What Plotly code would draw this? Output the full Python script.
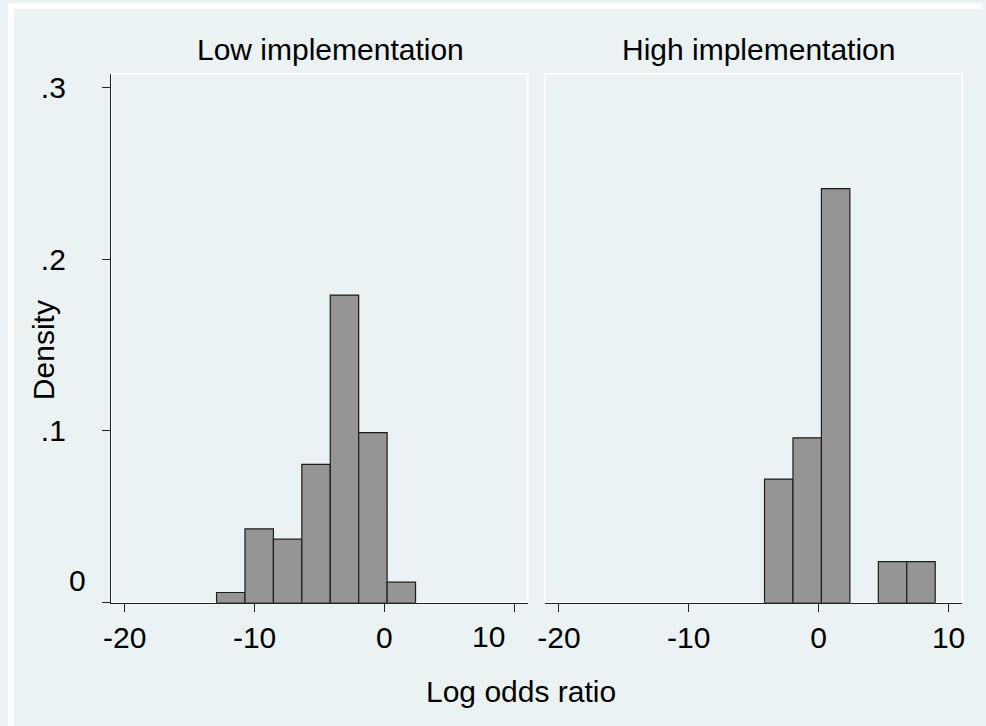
import plotly.graph_objects as go

# ---- data ----
bin_edges = [-12.93, -10.74, -8.55, -6.36, -4.17, -1.98, 0.21, 2.40, 4.59, 6.78, 8.97]
low_density = [0.006, 0.043, 0.037, 0.0805, 0.179, 0.099, 0.012, 0.0, 0.0, 0.0]
high_density = [0.0, 0.0, 0.0, 0.0, 0.072, 0.096, 0.241, 0.0, 0.024, 0.024]
panel_titles = ["Low implementation", "High implementation"]
x_tickvals = [-20, -10, 0, 10]
x_ticktext = ["-20", "-10", "0", "10"]
y_tickvals = [0, 0.1, 0.2, 0.3]
y_ticktext = ["0", ".1", ".2", ".3"]
x_title = "Log odds ratio"
y_title = "Density"

W, H = 986, 726
BG = "#EAF2F3"
FONT = "Liberation Sans"
FS = 30
BAR_FILL = "#959595"
BAR_LINE = "#1c1c1c"
AX = "#222222"


def px_x(p):
    return p / W


def px_y(p):
    return 1 - p / H


def bars(dens):
    xs, ws, ys = [], [], []
    for i, d in enumerate(dens):
        if d > 0:
            lo, hi = bin_edges[i], bin_edges[i + 1]
            xs.append((lo + hi) / 2)
            ws.append(hi - lo)
            ys.append(d)
    return xs, ws, ys


fig = go.Figure()
for k, dens in enumerate([low_density, high_density]):
    xs, ws, ys = bars(dens)
    fig.add_trace(go.Bar(
        x=xs, y=ys, width=ws,
        marker=dict(color=BAR_FILL, line=dict(color=BAR_LINE, width=1.2)),
        xaxis="x" if k == 0 else "x2", yaxis="y" if k == 0 else "y2",
        showlegend=False, hoverinfo="skip",
    ))

xr = [-21.05, 11.05]
yr = [0, 0.3078]
ydom = [px_y(602.3), px_y(71)]
dom1 = [px_x(104.3), px_x(525.7)]
dom2 = [px_x(543.3), px_x(965)]

xcommon = dict(range=xr, tickvals=x_tickvals, ticks="outside", ticklen=8,
               tickcolor=AX, tickwidth=1, showline=True, linecolor=AX, linewidth=1.3,
               showgrid=False, zeroline=False, fixedrange=True,
               tickfont=dict(family=FONT, size=FS, color="black"),
               ticklabelstandoff=0)

fig.update_layout(
    width=W, height=H,
    margin=dict(l=0, r=0, t=0, b=0),
    paper_bgcolor=BG, plot_bgcolor=BG,
    bargap=0,
    xaxis=dict(domain=dom1, anchor="y",
               ticktext=[t if v != 10 else "" for v, t in zip(x_tickvals, x_ticktext)],
               **xcommon),
    xaxis2=dict(domain=dom2, anchor="y2", ticktext=x_ticktext, **xcommon),
    yaxis=dict(domain=ydom, anchor="x", range=yr, tickvals=y_tickvals,
               ticktext=[t if v != 0 else "" for v, t in zip(y_tickvals, y_ticktext)],
               ticks="outside", ticklen=8, tickcolor=AX, tickwidth=1,
               showline=True, linecolor=AX, linewidth=1.3, showgrid=False,
               zeroline=False, fixedrange=True, ticklabelstandoff=30,
               tickfont=dict(family=FONT, size=FS, color="black")),
    yaxis2=dict(domain=ydom, anchor="x2", range=yr, showticklabels=False,
                ticks="", showline=False, showgrid=False, zeroline=False,
                fixedrange=True),
)

shapes = [
    # white strips at top/left of the image
    dict(type="rect", xref="paper", yref="paper", x0=0, x1=1, y0=px_y(6), y1=1,
         fillcolor="white", line=dict(width=0), layer="below"),
    dict(type="rect", xref="paper", yref="paper", x0=0, x1=px_x(6), y0=0, y1=1,
         fillcolor="white", line=dict(width=0), layer="below"),
]
for xa, ya in [("x", "y"), ("x2", "y2")]:
    shapes.append(dict(type="rect", xref=f"{xa} domain", yref=f"{ya} domain",
                       x0=0, x1=1, y0=0, y1=1, line=dict(color="white", width=1.5),
                       fillcolor="rgba(0,0,0,0)", layer="below"))
fig.update_layout(shapes=shapes)

ann = []
title_centers = [326.4, 759.3]
for t, cx in zip(panel_titles, title_centers):
    ann.append(dict(text=t, xref="paper", yref="paper", x=px_x(cx), y=px_y(47),
                    xanchor="center", yanchor="middle", showarrow=False,
                    font=dict(family=FONT, size=FS, color="black")))
ann.append(dict(text=x_title, xref="paper", yref="paper", x=px_x(518.8), y=px_y(691),
                xanchor="center", yanchor="middle", showarrow=False,
                font=dict(family=FONT, size=FS, color="black")))
ann.append(dict(text=y_title, xref="paper", yref="paper", x=px_x(36), y=px_y(349),
                xanchor="center", yanchor="middle", textangle=-90, showarrow=False,
                font=dict(family=FONT, size=FS, color="black")))
# shifted corner labels (as in the reference)
ann.append(dict(text=y_ticktext[0], xref="paper", yref="y", x=px_x(70.7), y=y_tickvals[0],
                yshift=22, xanchor="center", yanchor="middle", showarrow=False,
                font=dict(family=FONT, size=FS, color="black")))
ann.append(dict(text=x_ticktext[-1], xref="x", yref="paper", x=x_tickvals[-1],
                y=px_y(636), xshift=-26, xanchor="center", yanchor="middle",
                showarrow=False, font=dict(family=FONT, size=FS, color="black")))
fig.update_layout(annotations=ann)

fig.write_html(
    "out.html",
    config={"displayModeBar": False, "staticPlot": True},
    post_script="document.body.style.margin='0';document.body.style.overflow='hidden';",
)
